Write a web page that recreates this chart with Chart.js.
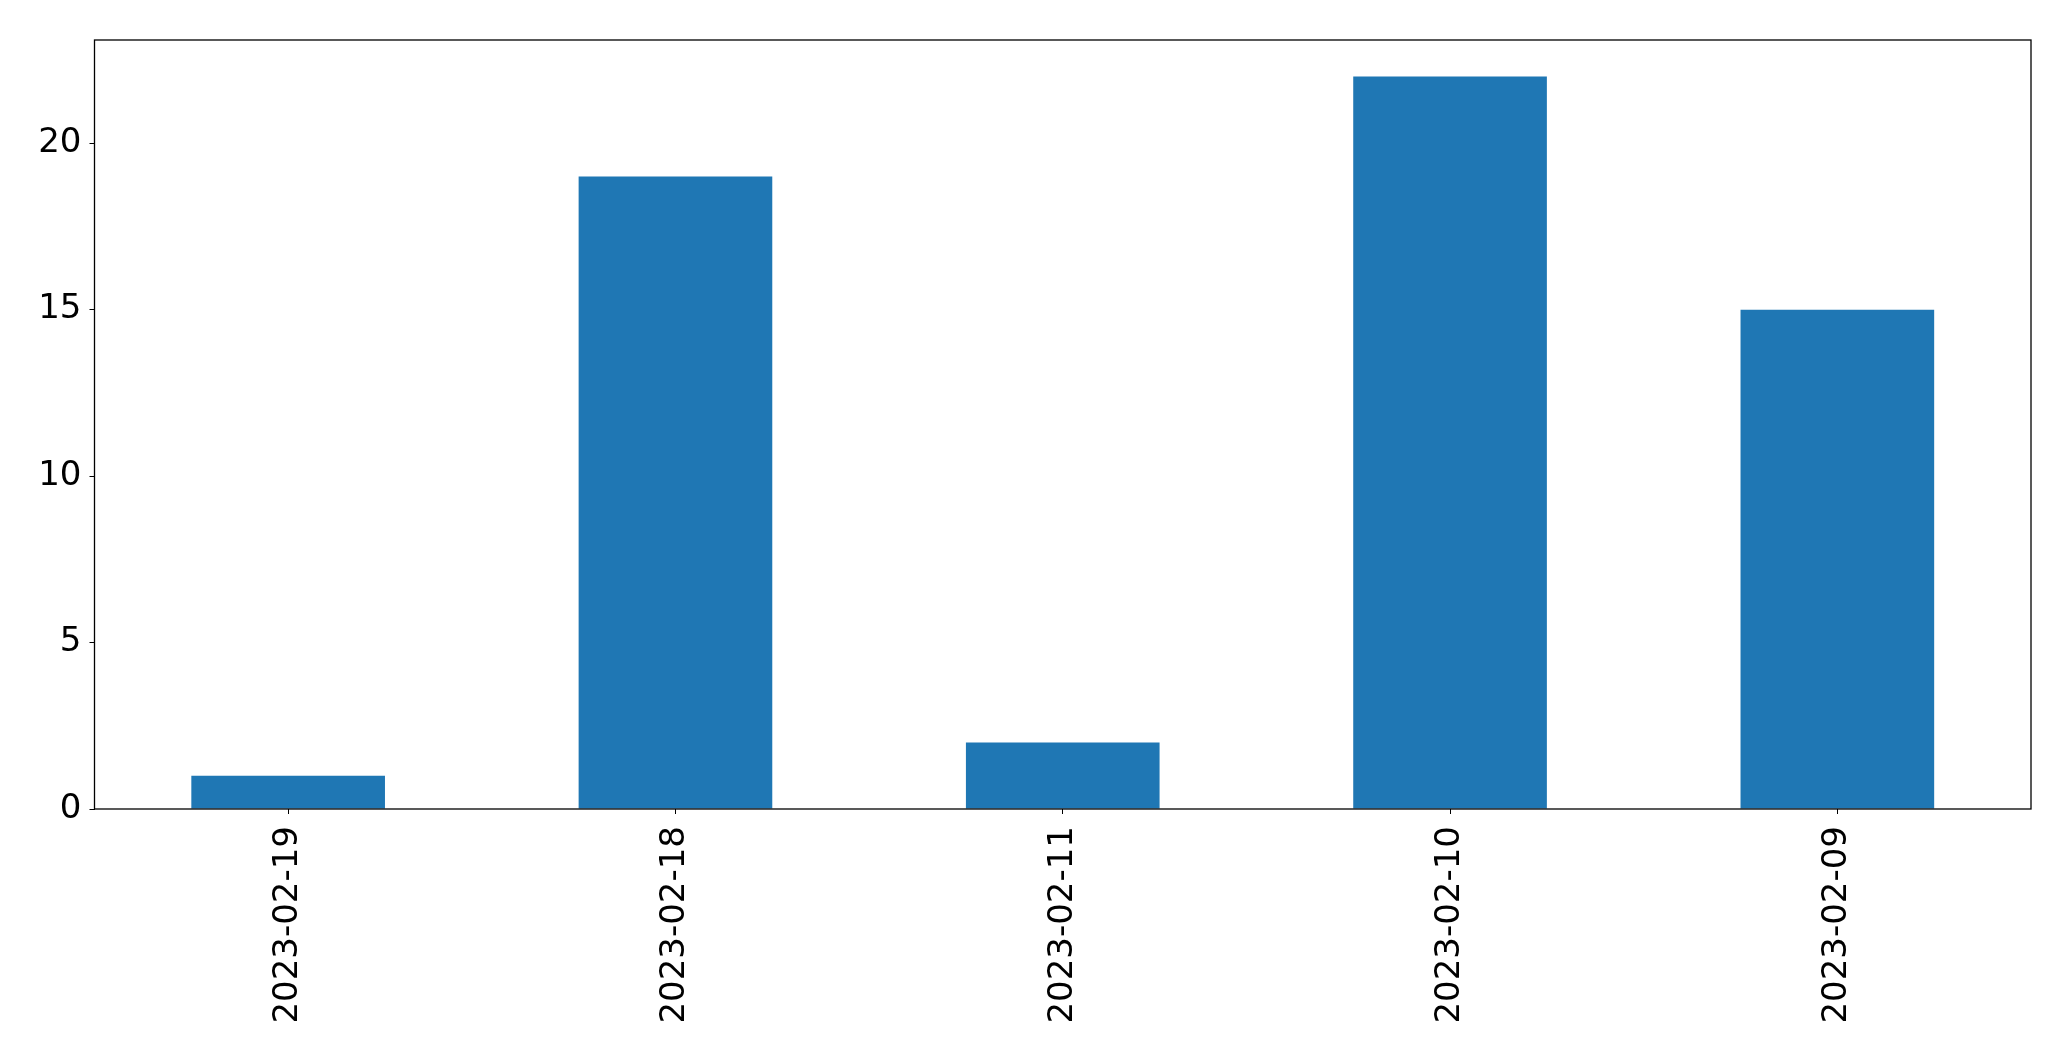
<!DOCTYPE html>
<html>
<head>
<meta charset="utf-8">
<script src="https://cdn.jsdelivr.net/npm/chart.js@4"></script>
<style>
  html, body { margin: 0; padding: 0; background: #fff; }
  #wrap { width: 2071px; height: 1061px; }
</style>
</head>
<body>
<div id="wrap"><canvas id="barChart" width="2071" height="1061"></canvas></div>
<script>
const dates = ['2023-02-19', '2023-02-18', '2023-02-11', '2023-02-10', '2023-02-09'];
const counts = [1, 19, 2, 22, 15];
const yTicks = [0, 5, 10, 15, 20];

// draws the full box around the plot, like matplotlib spines
const frameBox = {
  id: 'frameBox',
  afterDraw(chart) {
    const { ctx, chartArea } = chart;
    ctx.save();
    ctx.strokeStyle = '#000';
    ctx.lineWidth = 1.3;
    ctx.strokeRect(chartArea.left, chartArea.top, chartArea.right - chartArea.left, chartArea.bottom - chartArea.top);
    ctx.restore();
  }
};

const tickFont = { family: 'DejaVu Sans', size: 34 };

new Chart(document.getElementById('barChart'), {
  type: 'bar',
  data: {
    labels: dates,
    datasets: [{
      data: counts,
      backgroundColor: '#1f77b4',
      borderWidth: 0,
      barPercentage: 0.5,
      categoryPercentage: 1.0
    }]
  },
  options: {
    responsive: false,
    animation: false,
    layout: { padding: { left: 0, top: 40, right: 40, bottom: 0 } },
    plugins: { legend: { display: false }, tooltip: { enabled: false } },
    scales: {
      x: {
        offset: true,
        grid: { drawOnChartArea: false, drawTicks: true, tickLength: 5, color: '#000', offset: false },
        border: { display: false },
        ticks: { color: '#000', font: tickFont, minRotation: 90, maxRotation: 90, padding: 12, autoSkip: false },
        afterFit(scale) { scale.height = 252; }
      },
      y: {
        min: 0,
        max: 23.1,
        grid: { drawOnChartArea: false, drawTicks: true, tickLength: 5, color: '#000' },
        border: { display: false },
        afterBuildTicks(scale) { scale.ticks = yTicks.map(v => ({ value: v })); },
        ticks: { color: '#000', font: tickFont, padding: 8 },
        afterFit(scale) { scale.width = 94.5; }
      }
    }
  },
  plugins: [frameBox]
});
</script>
</body>
</html>
